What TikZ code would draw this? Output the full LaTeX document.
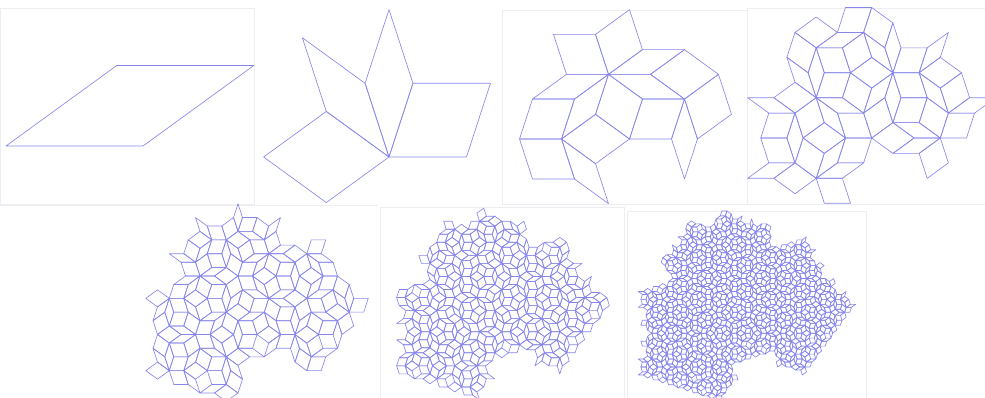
\documentclass[tikz,border=0pt]{standalone}
\definecolor{tileblue}{RGB}{135,135,235}
\definecolor{framegray}{RGB}{238,238,242}
\tikzset{x=1pt,y=-1pt,
  rhomb/.style={draw=tileblue,line width=0.65pt,line join=round},
  frame/.style={draw=framegray,line width=0.6pt}}
\def\gold{1.618034}
% whole rhomb: level, kind (0 thin, 1 fat), then corners A, B, C; BC is the cut diagonal
\newcommand{\rhombtile}[8]{%
  \pgfmathtruncatemacro{\keyx}{round((#5+#7)/16)}%
  \pgfmathtruncatemacro{\keyy}{round((#6+#8)/16)}%
  \ifcsname seen-\depth-#1-\keyx-\keyy\endcsname\else
    \expandafter\global\expandafter\let\csname seen-\depth-#1-\keyx-\keyy\endcsname\relax
    \pgfmathsetmacro{\Dx}{#5+#7-#3}\pgfmathsetmacro{\Dy}{#6+#8-#4}%
    \ifnum#1=0
      \draw[rhomb] (#3,#4) -- (#5,#6) -- (\Dx,\Dy) -- (#7,#8) -- cycle;%
    \else
      \edef\tmpb{\noexpand\halftile{#1}{#2}{#3}{#4}{#5}{#6}{#7}{#8}%
        \noexpand\halftile{#1}{#2}{\Dx}{\Dy}{#5}{#6}{#7}{#8}}\tmpb
    \fi
  \fi}
% one half of it goes down a level
\newcommand{\halftile}[8]{%
  \pgfmathtruncatemacro{\next}{#1-1}%
  \ifnum#2=0
    \pgfmathsetmacro{\Px}{#3+(#5-#3)/\gold}\pgfmathsetmacro{\Py}{#4+(#6-#4)/\gold}%
    \edef\tmpa{\noexpand\rhombtile{\next}{0}{#7}{#8}{\Px}{\Py}{#5}{#6}%
      \noexpand\rhombtile{\next}{1}{\Px}{\Py}{#7}{#8}{#3}{#4}}\tmpa
  \else
    \pgfmathsetmacro{\Qx}{#5+(#3-#5)/\gold}\pgfmathsetmacro{\Qy}{#6+(#4-#6)/\gold}%
    \pgfmathsetmacro{\Rx}{#5+(#7-#5)/\gold}\pgfmathsetmacro{\Ry}{#6+(#8-#6)/\gold}%
    \edef\tmpa{\noexpand\rhombtile{\next}{1}{\Rx}{\Ry}{#7}{#8}{#3}{#4}%
      \noexpand\rhombtile{\next}{1}{\Qx}{\Qy}{\Rx}{\Ry}{#5}{#6}%
      \noexpand\rhombtile{\next}{0}{\Rx}{\Ry}{\Qx}{\Qy}{#3}{#4}}\tmpa
  \fi}
\begin{document}
\begin{tikzpicture}
\useasboundingbox (0,0) rectangle (985,398);

% Faint frames of the shots; the fifth shows only its top edge.
\foreach \xa/\ya/\xb/\yb in {0/8/254/204,502/10/747/204,747/8/985/204,
  380/207/624/398,627/211/866/398}
  \draw[frame] (\xa,\ya) rectangle (\xb,\yb);
\draw[frame] (0,205) -- (378,205);

% Same thin rhomb, split \depth times; px,py is its lower obtuse corner.
\foreach \depth/\px/\py/\sz in {0/143/146/137,1/389/157/125.4,2/629.5/139/110,
  3/871.7/138/111,4/257/334.5/99.5,5/501.7/331.7/94,6/744.8/333.2/93}
{
  \begin{scope}[shift={(\px,\py)},scale=\sz/1000]
    \rhombtile{\depth}{0}{-1000}{0}{-191}{-587.8}{0}{0}
  \end{scope}
}
\end{tikzpicture}
\end{document}
